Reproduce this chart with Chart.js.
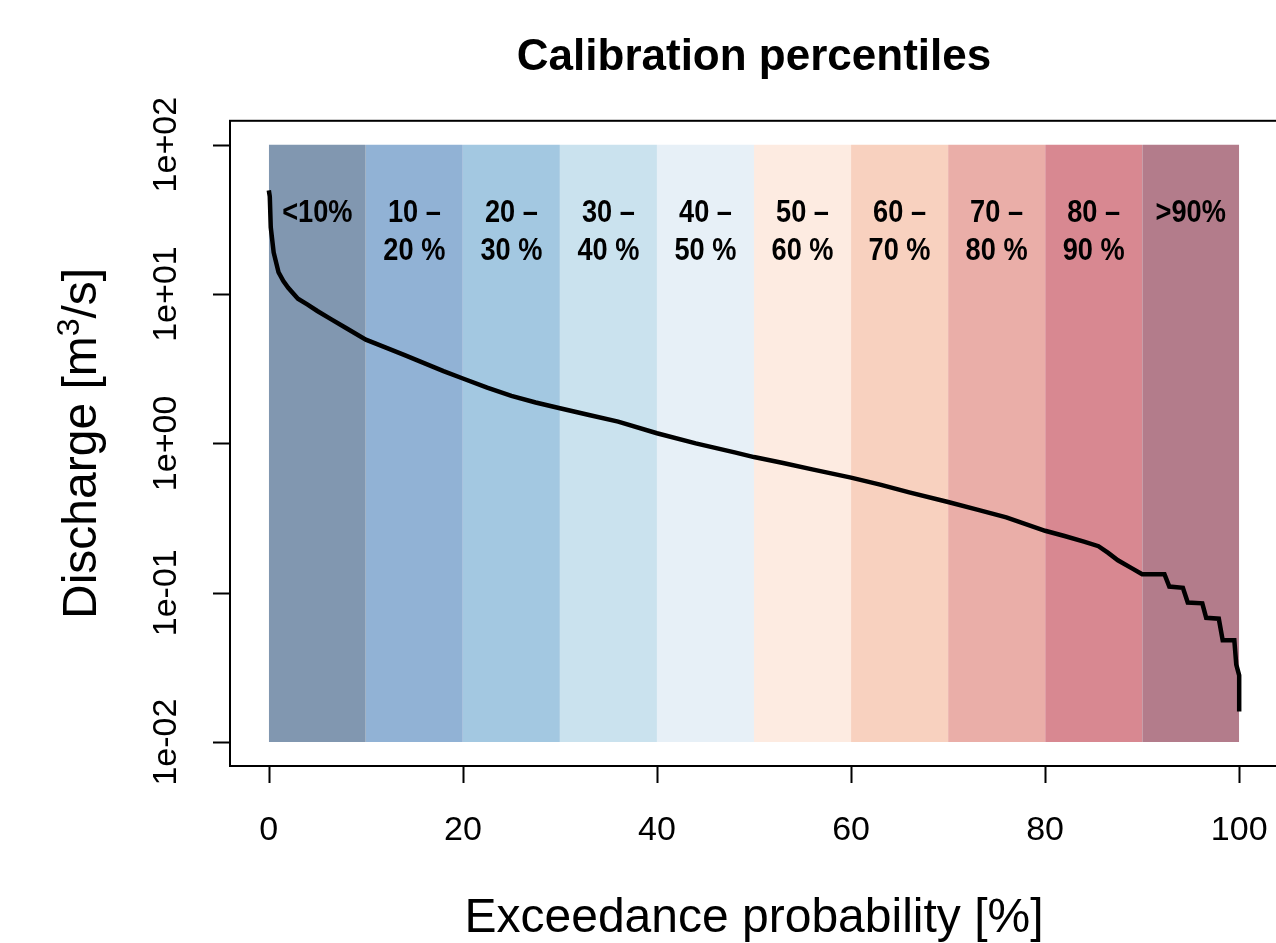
<!DOCTYPE html>
<html>
<head>
<meta charset="utf-8">
<title>Calibration percentiles</title>
<script src="https://cdn.jsdelivr.net/npm/chart.js@4.4.1/dist/chart.umd.min.js"></script>
<style>
  html, body { margin: 0; padding: 0; background: #fff; overflow: hidden; }
  canvas { display: block; }
</style>
</head>
<body>
<canvas id="fdc" width="1280" height="943"></canvas>
<script>
// Flow duration curve
const exceedance = [0, 0.1, 0.2, 0.5, 1.0, 1.5, 2.0, 3.0, 4.0, 5.0, 6.4, 8.0,
  10, 12, 14, 16, 18, 20, 22.5, 25, 27.5, 30, 33, 36, 40, 44, 48, 50, 53, 56, 60, 63, 66,
  70, 73, 76, 80, 82, 84, 85.5, 86.5, 87.5, 89, 90, 92.3, 92.8, 94.2, 94.7, 96.2, 96.6,
  97.9, 98.3, 99.5, 99.7, 100, 100];
const discharge = [49.5, 45, 28, 19, 14, 12.2, 11.0, 9.3, 8.5, 7.7, 6.8, 5.9,
  4.95, 4.4, 3.9, 3.45, 3.05, 2.72, 2.36, 2.08, 1.88, 1.72, 1.55, 1.40, 1.17, 1.0, 0.87, 0.81,
  0.74, 0.67, 0.59, 0.53, 0.47, 0.405, 0.36, 0.32, 0.26, 0.24, 0.22, 0.205, 0.185, 0.165,
  0.145, 0.133, 0.133, 0.11, 0.108, 0.086, 0.085, 0.068, 0.067, 0.048, 0.048, 0.033, 0.028,
  0.016];

// percentile bands
const bandEdges = [0, 10, 20, 30, 40, 50, 60, 70, 80, 90, 100];
const bandColors = ['#8197b0', '#91b2d5', '#a3c8e1', '#cae2ee', '#e7f0f7',
  '#fdebe1', '#f8d1bf', '#eaaea8', '#d88891', '#b37c8b'];
const bandLabelTop = ['<10%', '10 –', '20 –', '30 –', '40 –', '50 –', '60 –', '70 –', '80 –', '>90%'];
const bandLabelBottom = ['', '20 %', '30 %', '40 %', '50 %', '60 %', '70 %', '80 %', '90 %', ''];
const bandLow = 0.01;
const bandHigh = 100;

// axes
const xTicks = [0, 20, 40, 60, 80, 100];
const yTicks = [0.01, 0.1, 1, 10, 100];
const yTickLabels = ['1e-02', '1e-01', '1e+00', '1e+01', '1e+02'];

const FONT = "'Liberation Sans', Arial, sans-serif";

// band datasets (filled down to the lower band limit)
const bandSets = bandColors.map((c, i) => ({
    label: 'band' + i,
    data: [{ x: bandEdges[i], y: bandHigh }, { x: bandEdges[i + 1], y: bandHigh }],
    backgroundColor: c,
    borderWidth: 0,
    pointRadius: 0,
    fill: { value: bandLow },
    order: 1
}));

// R-like axes, box and text
const rAxes = {
    id: 'rAxes',
    beforeDraw(chart) {
        const { ctx, width, height } = chart;
        ctx.save();
        ctx.fillStyle = '#fff';
        ctx.fillRect(0, 0, width, height);
        ctx.restore();
    },
    afterDatasetsDraw(chart) {
        const { ctx, chartArea: a, scales: { x, y } } = chart;
        ctx.save();

        // band labels
        ctx.fillStyle = '#000';
        ctx.textAlign = 'center';
        ctx.textBaseline = 'middle';
        ctx.font = 'bold 32px ' + FONT;
        const midY = y.getPixelForValue(26);
        bandLabelTop.forEach((t, i) => {
            const cx = x.getPixelForValue((bandEdges[i] + bandEdges[i + 1]) / 2);
            const lines = bandLabelBottom[i] ? [t, bandLabelBottom[i]] : [t];
            lines.forEach((ln, k) => {
                ctx.save();
                ctx.translate(cx, midY - 19 + k * 38);
                ctx.scale(0.85, 1);
                ctx.fillText(ln, 0, 0);
                ctx.restore();
            });
        });

        // box
        ctx.strokeStyle = '#000';
        ctx.lineWidth = 2;
        ctx.strokeRect(a.left, a.top, a.right - a.left, a.bottom - a.top);

        // tick marks
        ctx.beginPath();
        xTicks.forEach(v => {
            const px = Math.round(x.getPixelForValue(v)) + 0.5;
            ctx.moveTo(px, a.bottom);
            ctx.lineTo(px, a.bottom + 17);
        });
        yTicks.forEach(v => {
            const py = Math.round(y.getPixelForValue(v)) + 0.5;
            ctx.moveTo(a.left, py);
            ctx.lineTo(a.left - 17, py);
        });
        ctx.stroke();

        // tick labels
        ctx.font = '34px ' + FONT;
        ctx.textAlign = 'center';
        ctx.textBaseline = 'middle';
        xTicks.forEach(v => ctx.fillText(String(v), x.getPixelForValue(v), 831));
        yTicks.forEach((v, i) => {
            ctx.save();
            ctx.translate(167, y.getPixelForValue(v));
            ctx.rotate(-Math.PI / 2);
            ctx.fillText(yTickLabels[i], 0, 0);
            ctx.restore();
        });

        // x title
        ctx.font = '48px ' + FONT;
        ctx.textBaseline = 'alphabetic';
        ctx.fillText('Exceedance probability [%]', (a.left + a.right) / 2, 932);

        // y title with superscript
        const part1 = 'Discharge [m', sup = '3', part2 = '/s]';
        ctx.font = '48px ' + FONT;
        const w1 = ctx.measureText(part1).width, w3 = ctx.measureText(part2).width;
        ctx.font = '32px ' + FONT;
        const w2 = ctx.measureText(sup).width;
        const total = w1 + w2 + w3;
        ctx.save();
        ctx.translate(96, (a.top + a.bottom) / 2);
        ctx.rotate(-Math.PI / 2);
        ctx.textAlign = 'left';
        let sx = -total / 2;
        ctx.font = '48px ' + FONT;
        ctx.fillText(part1, sx, 0);
        sx += w1;
        ctx.font = '32px ' + FONT;
        ctx.fillText(sup, sx, -17);
        sx += w2;
        ctx.font = '48px ' + FONT;
        ctx.fillText(part2, sx, 0);
        ctx.restore();

        ctx.restore();
    }
};

new Chart(document.getElementById('fdc'), {
    type: 'line',
    data: {
        datasets: [
            {
                label: 'Discharge',
                data: exceedance.map((p, i) => ({ x: p, y: discharge[i] })),
                borderColor: '#000',
                borderWidth: 4.5,
                pointRadius: 0,
                tension: 0,
                fill: false,
                order: 0
            },
            ...bandSets
        ]
    },
    options: {
        responsive: false,
        animation: false,
        layout: { padding: { left: 230, right: 2, top: 0, bottom: 177 } },
        plugins: {
            legend: { display: false },
            tooltip: { enabled: false },
            title: {
                display: true,
                text: 'Calibration percentiles',
                color: '#000',
                font: { family: FONT, size: 44, weight: 'bold', lineHeight: 1.2 },
                padding: { top: 31, bottom: 37 }
            }
        },
        scales: {
            x: { type: 'linear', min: -4, max: 104, display: false },
            y: { type: 'logarithmic', min: Math.pow(10, -2.16), max: Math.pow(10, 2.16), display: false }
        }
    },
    plugins: [rAxes]
});
</script>
</body>
</html>
